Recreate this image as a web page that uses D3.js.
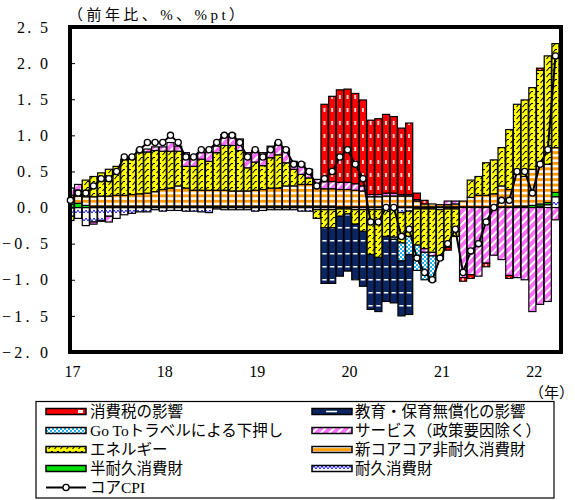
<!DOCTYPE html>
<html>
<head>
<meta charset="utf-8">
<script src="https://cdn.jsdelivr.net/npm/d3@7"></script>
<style>
  body { margin: 0; background: #fff; }
  svg { display: block; }
</style>
</head>
<body>
<svg id="chart" width="575" height="500"></svg>
<script>
// Monthly contributions to core CPI (y/y, %pt), Jan 2017 – Apr 2022
const months = d3.range(64).map(i => d3.timeFormat("%Y-%m")(new Date(2017, i, 1)));

const durable = [
  -0.12,-0.15,-0.25,-0.20,-0.18,-0.12,-0.15,-0.10,-0.08,-0.06,-0.06,-0.03,
  -0.05,-0.04,-0.04,-0.05,-0.05,-0.06,-0.07,-0.02,-0.03,-0.03,-0.03,-0.03,
  -0.05,-0.04,-0.03,-0.03,-0.03,-0.03,-0.05,-0.05,-0.03,-0.03,-0.03,-0.02,
  -0.02,-0.03,-0.03,-0.03,-0.03,-0.02,-0.03,-0.07,-0.05,-0.02,-0.02,-0.02,
  -0.03,-0.02,-0.02, 0.00, 0.00, 0.00, 0.00, 0.00, 0.00, 0.00, 0.00, 0.00,
   0.00, 0.02, 0.04, 0.15];
const semiDurable = [
  0.05,0.06,0.03,0.02,0.02,0.02,0.02,0.02,0.02,0.02,0.02,0.02,
  0.02,0.02,0.02,0.02,0.02,0.02,0.02,0.02,0.02,0.02,0.02,0.02,
  0.02,0.02,0.02,0.02,0.02,0.02,0.02,0.02,0.02,0.02,0.02,0.01,
  0.01,0.01,0.01,0.01,0.01,0.01,0.01,0.01,0.01,0.01,0.01,0.01,
  0.01,0.01,0.01,0.01,0.01,0.01,0.01,0.01,0.01,0.01,0.02,0.02,
  0.03,0.03,0.03,0.06];
const coreCoreNonDurable = [
  0.12,0.10,0.12,0.13,0.14,0.14,0.15,0.15,0.16,0.17,0.18,0.20,
  0.23,0.25,0.28,0.25,0.22,0.22,0.22,0.22,0.22,0.21,0.21,0.21,
  0.22,0.23,0.25,0.25,0.28,0.28,0.30,0.30,0.27,0.24,0.24,0.24,
  0.24,0.23,0.22,0.14,0.14,0.15,0.15,0.15,0.15,0.08,0.04,0.04,
  0.03,0.03,0.04,0.08,0.13,0.16,0.16,0.18,0.29,0.24,0.44,0.41,
  0.50,0.57,0.53,0.62];
const energy = [
  -0.06, 0.08, 0.23, 0.28, 0.32, 0.37, 0.40, 0.50, 0.49, 0.57, 0.57, 0.57,
   0.53, 0.51, 0.48, 0.30, 0.33, 0.43, 0.40, 0.52, 0.62, 0.63, 0.56, 0.32,
   0.39, 0.33, 0.42, 0.46, 0.32, 0.23, 0.14, 0.09,-0.12,-0.25,-0.25,-0.10,
  -0.07,-0.20,-0.30,-0.62,-0.66,-0.38,-0.38,-0.42,-0.35,-0.50,-0.55,-0.60,
  -0.64,-0.53,-0.38, 0.00, 0.24, 0.26, 0.45, 0.47, 0.53, 0.83, 0.97, 1.06,
   1.13, 1.28, 1.50, 1.44];
const services = [
   0.10, 0.08, 0.00,-0.03,-0.01,-0.08, 0.00, 0.00, 0.02, 0.04, 0.04, 0.05,
   0.06, 0.12, 0.07, 0.19, 0.14, 0.09, 0.13, 0.09, 0.15, 0.16, 0.16, 0.21,
   0.16, 0.18, 0.16, 0.17, 0.19, 0.11, 0.16, 0.12, 0.10, 0.10, 0.10, 0.10,
   0.10, 0.09, 0.07, 0.03, 0.03, 0.04, 0.04, 0.02, 0.02, 0.02,-0.05,-0.05,
   0.00, 0.05, 0.04,-0.97,-0.93,-0.95,-0.77,-0.66,-0.72,-0.94,-0.97,-1.00,
  -1.44,-1.34,-1.30,-0.17];
const goToTravel = [
  0,0,0,0,0,0,0,0,0,0,0,0,
  0,0,0,0,0,0,0,0,0,0,0,0,
  0,0,0,0,0,0,0,0,0,0,0,0,
  0,0,0,0,0,0,-0.03,-0.25,-0.25,-0.35,-0.38,-0.35,
  0,0,0,0,0,0,0,0,0,0,0,0,
  0,0,0,0];
const freeEducation = [
  0,0,0,0,0,0,0,0,0,0,0,0,
  0,0,0,0,0,0,0,0,0,0,0,0,
  0,0,0,0,0,0,0,0,0,-0.77,-0.77,-0.83,
  -0.79,-0.77,-0.76,-0.76,-0.75,-0.90,-0.88,-0.76,-0.83,0,0,0,
  0,0,0,0,0,0,0,0,0,0,0,0,
  0,0,0,0];
const consumptionTax = [
  0,0,0,0,0,0,0,0,0,0,0,0,
  0,0,0,0,0,0,0,0,0,0,0,0,
  0,0,0,0,0,0,0,0,0,1.07,1.18,1.28,
  1.29,1.25,1.19,1.03,1.05,1.09,1.06,0.92,0.99,0.09,0.05,0,
  -0.05,-0.04,0,-0.05,-0.05,0,-0.05,0,0,-0.04,0,0,
  0,0.03,0,0];
const coreCPI = [
  0.1,0.2,0.2,0.3,0.4,0.4,0.5,0.7,0.7,0.8,0.9,0.9,
  0.9,1.0,0.9,0.7,0.7,0.8,0.8,0.9,1.0,1.0,0.9,0.7,
  0.8,0.7,0.8,0.9,0.8,0.6,0.6,0.5,0.3,0.4,0.5,0.7,
  0.8,0.6,0.4,-0.2,-0.2,0.0,0.0,-0.4,-0.3,-0.7,-0.9,-1.0,
  -0.7,-0.5,-0.3,-0.9,-0.6,-0.5,-0.2,0.0,0.1,0.1,0.5,0.5,
  0.2,0.6,0.8,2.1];

const yTicks = [2.5, 2.0, 1.5, 1.0, 0.5, 0.0, -0.5, -1.0, -1.5, -2.0];
const yearTickMonths = [0, 12, 24, 36, 48, 60];
const yearLabels = ["17", "18", "19", "20", "21", "22"];

const legendLabels = {
  tax: "消費税の影響",
  education: "教育・保育無償化の影響",
  goTo: "Go Toトラベルによる下押し",
  services: "サービス（政策要因除く）",
  energy: "エネルギー",
  coreCore: "新コアコア非耐久消費財",
  semiDurable: "半耐久消費財",
  durable: "耐久消費財",
  line: "コアCPI"
};

// Stack order from the zero line outward
const keys = ["durable", "semiDurable", "coreCore", "energy", "services", "goTo", "education", "tax"];
const table = months.map((m, i) => ({
  month: i,
  durable: durable[i],
  semiDurable: semiDurable[i],
  coreCore: coreCoreNonDurable[i],
  energy: energy[i],
  services: services[i],
  goTo: goToTravel[i],
  education: freeEducation[i],
  tax: consumptionTax[i]
}));

const plot = { left: 70, right: 561, top: 27, bottom: 352 };
const svg = d3.select("#chart");
const FONT = "'Liberation Serif', 'Noto Sans CJK JP', serif";
const JFONT = "'Liberation Serif', 'Noto Sans CJK JP', sans-serif";

const step = 7.69;
const x0 = 70.7 - step / 2;
const x = d3.scaleBand().domain(d3.range(months.length)).range([x0, x0 + step * months.length]).paddingInner(0.08);
const bw = x.bandwidth();
const xc = i => x(i) + bw / 2;
const y = d3.scaleLinear().domain([-2, 2.5]).range([plot.bottom, plot.top]);

// ---------- fill patterns ----------
const defs = svg.append("defs");
function pattern(id, w, h, attrs = {}) {
  const p = defs.append("pattern").attr("id", id).attr("patternUnits", "userSpaceOnUse")
    .attr("width", w).attr("height", h);
  Object.entries(attrs).forEach(([k, v]) => p.attr(k, v));
  return p;
}
// consumption tax: red with white vertical dashes centred in each bar
let p = pattern("pTax", step, 13, { x: x0 });
p.append("rect").attr("width", step).attr("height", 13).attr("fill", "#ff0000");
p.append("rect").attr("x", step / 2 - 0.8).attr("y", 4).attr("width", 1.6).attr("height", 4).attr("fill", "#fff");
// free education: navy with white horizontal dashes
p = pattern("pEdu", step, 13, { x: x0 });
p.append("rect").attr("width", step).attr("height", 13).attr("fill", "#0b2462");
p.append("rect").attr("x", step / 2 - 2.2).attr("y", 6).attr("width", 4.4).attr("height", 1.5).attr("fill", "#fff");
// Go To: cyan checks
p = pattern("pGoTo", 4, 4);
p.append("rect").attr("width", 4).attr("height", 4).attr("fill", "#fff");
p.append("rect").attr("width", 2).attr("height", 2).attr("fill", "#22b4ee");
p.append("rect").attr("x", 2).attr("y", 2).attr("width", 2).attr("height", 2).attr("fill", "#22b4ee");
// services: pink diagonal stripes
p = pattern("pSrv", 6, 6, { patternTransform: "rotate(45)" });
p.append("rect").attr("width", 6).attr("height", 6).attr("fill", "#fff");
p.append("rect").attr("width", 4).attr("height", 6).attr("fill", "#ff70ff");
// energy: yellow with black diagonal dashes
p = pattern("pEn", 6, 6);
p.append("rect").attr("width", 6).attr("height", 6).attr("fill", "#ffff00");
p.append("path").attr("d", "M0.5,5 L3.5,1.5 L5,1.5").attr("fill", "none").attr("stroke", "#000").attr("stroke-width", 1.1);
// new core-core non-durables: orange and white bands
p = pattern("pCC", 6, 5.4);
p.append("rect").attr("width", 6).attr("height", 5.4).attr("fill", "#fff");
p.append("rect").attr("width", 6).attr("height", 2.9).attr("fill", "#ff9900");
// durables: white with sparse blue zigzag
p = pattern("pDur", 8, 8);
p.append("rect").attr("width", 8).attr("height", 8).attr("fill", "#fff");
p.append("path").attr("d", "M0,5 L2,2 L4,5 L6,2 L8,5").attr("fill", "none").attr("stroke", "#0000ff").attr("stroke-width", 0.9);

const fills = {
  durable: "url(#pDur)",
  semiDurable: "#00e000",
  coreCore: "url(#pCC)",
  energy: "url(#pEn)",
  services: "url(#pSrv)",
  goTo: "url(#pGoTo)",
  education: "url(#pEdu)",
  tax: "url(#pTax)"
};

// ---------- bars ----------
defs.append("clipPath").attr("id", "plotClip").append("rect")
  .attr("x", plot.left).attr("y", plot.top)
  .attr("width", plot.right - plot.left).attr("height", plot.bottom - plot.top);

const stacked = d3.stack().keys(keys).offset(d3.stackOffsetDiverging)(table);
const barsG = svg.append("g").attr("clip-path", "url(#plotClip)");
barsG.selectAll("g.layer").data(stacked).join("g")
  .attr("class", "layer")
  .attr("fill", s => fills[s.key])
  .selectAll("rect")
  .data(s => s.filter(d => d[1] !== d[0]))
  .join("rect")
  .attr("x", d => x(d.data.month))
  .attr("width", bw)
  .attr("y", d => y(Math.max(d[0], d[1])))
  .attr("height", d => Math.abs(y(d[0]) - y(d[1])))
  .attr("stroke", "#000")
  .attr("stroke-width", 1.2);

// ---------- frame and axes ----------
svg.append("rect")
  .attr("x", plot.left).attr("y", plot.top)
  .attr("width", plot.right - plot.left).attr("height", plot.bottom - plot.top)
  .attr("fill", "none").attr("stroke", "#000").attr("stroke-width", 4);

const fmtY = d => (d < 0 ? "−" : "") + Math.abs(d).toFixed(1).replace(".", ". ");
const yAxis = svg.append("g").attr("transform", `translate(${plot.left},0)`)
  .call(d3.axisLeft(y).tickValues(yTicks).tickFormat(fmtY).tickSize(-5).tickPadding(22));
yAxis.select(".domain").remove();
yAxis.selectAll(".tick line").attr("stroke", "#000").attr("stroke-width", 1);
yAxis.selectAll(".tick text")
  .attr("font-family", FONT).attr("font-size", 16).attr("fill", "#000")
  .attr("textLength", d => d < 0 ? 46 : 31).attr("lengthAdjust", "spacing");

const xAxis = svg.append("g").attr("transform", `translate(2,${plot.bottom})`)
  .call(d3.axisBottom(x).tickValues(yearTickMonths)
    .tickFormat(i => yearLabels[yearTickMonths.indexOf(i)]).tickSize(0).tickPadding(14));
xAxis.select(".domain").remove();
xAxis.selectAll(".tick text").attr("font-family", FONT).attr("font-size", 16).attr("fill", "#000");

svg.append("text").attr("x", 68).attr("y", 19.5)
  .attr("font-family", JFONT).attr("font-size", 15).attr("textLength", 176).attr("lengthAdjust", "spacing")
  .text("（前年比、%、%pt）");
svg.append("text").attr("x", 574).attr("y", 398).attr("text-anchor", "end")
  .attr("font-family", JFONT).attr("font-size", 15).text("（年）");

// ---------- core CPI line ----------
const line = d3.line().x((v, i) => xc(i)).y(v => y(v));
svg.append("path").datum(coreCPI).attr("d", line)
  .attr("fill", "none").attr("stroke", "#000").attr("stroke-width", 2);
svg.append("g").selectAll("circle").data(coreCPI).join("circle")
  .attr("cx", (v, i) => xc(i)).attr("cy", v => y(v)).attr("r", 3.1)
  .attr("fill", "#fff").attr("stroke", "#000").attr("stroke-width", 1.3);

// ---------- legend ----------
const lg = svg.append("g");
lg.append("rect").attr("x", 36).attr("y", 401.5).attr("width", 518).attr("height", 96.5)
  .attr("fill", "#fff").attr("stroke", "#000").attr("stroke-width", 1.2);
const rowsY = [411.5, 430.5, 449.5, 468.5, 487.5];
const cols = [{ sx: 46, tx: 90 }, { sx: 312, tx: 355 }];
const legendItems = [
  { key: "tax", col: 0, row: 0 }, { key: "education", col: 1, row: 0 },
  { key: "goTo", col: 0, row: 1 }, { key: "services", col: 1, row: 1 },
  { key: "energy", col: 0, row: 2 }, { key: "coreCore", col: 1, row: 2 },
  { key: "semiDurable", col: 0, row: 3 }, { key: "durable", col: 1, row: 3 },
  { key: "line", col: 0, row: 4 }
];
legendItems.forEach(it => {
  const cy = rowsY[it.row], c = cols[it.col];
  const g = lg.append("g");
  if (it.key === "line") {
    g.append("line").attr("x1", c.sx).attr("x2", c.sx + 40).attr("y1", cy).attr("y2", cy)
      .attr("stroke", "#000").attr("stroke-width", 2);
    g.append("circle").attr("cx", c.sx + 20).attr("cy", cy).attr("r", 3.1)
      .attr("fill", "#fff").attr("stroke", "#000").attr("stroke-width", 1.3);
  } else {
    let fill = fills[it.key];
    if (it.key === "tax") fill = "#ff0000";
    if (it.key === "education") fill = "#0b2462";
    g.append("rect").attr("x", c.sx).attr("y", cy - 3).attr("width", 40).attr("height", 6)
      .attr("fill", fill).attr("stroke", "#000").attr("stroke-width", 1.5);
    if (it.key === "tax")
      g.append("rect").attr("x", c.sx + 32).attr("y", cy - 1.5).attr("width", 5).attr("height", 3).attr("fill", "#fff");
    if (it.key === "education")
      g.append("rect").attr("x", c.sx + 14).attr("y", cy - 0.75).attr("width", 11).attr("height", 1.5).attr("fill", "#fff");
  }
  g.append("text").attr("x", c.tx).attr("y", cy + 5.5)
    .attr("font-family", JFONT).attr("font-size", 15.5).attr("fill", "#000")
    .text(legendLabels[it.key]);
});
</script>
</body>
</html>
